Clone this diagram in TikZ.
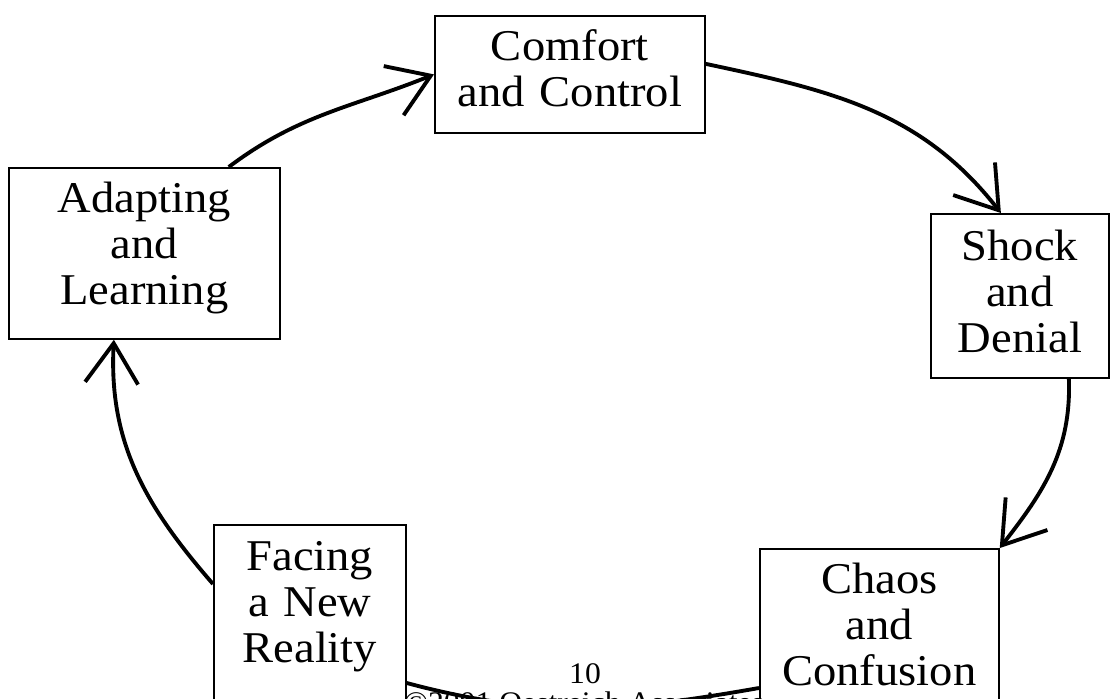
\documentclass[tikz,border=0pt]{standalone}
\usepackage{fontspec}
\setmainfont[FakeStretch=1.06]{Liberation Serif}
\usetikzlibrary{arrows.meta}

\begin{document}
\begin{tikzpicture}[
  stage/.style={draw,line width=1pt,anchor=north west,inner sep=0pt,align=center,
    font=\fontsize{25}{26.2}\selectfont},
  cycline/.style={line width=2.2pt},
  cyc/.style={cycline,-{Straight Barb[length=0.8cm,width=1.06cm]}},
  foot/.style={anchor=base,font=\fontsize{17}{17}\selectfont}]
\useasboundingbox (0,0) rectangle (22.2,13.96);
\clip (0,0) rectangle (22.2,13.96);
% the five stages of the cycle
\node[stage,text width=5.40cm,text height=0.90cm,text depth=1.44cm] (comfort) at (8.68,13.66) {Comfort\\and Control};
\node[stage,text width=3.56cm,text height=0.94cm,text depth=2.34cm] (shock) at (18.60,9.70) {Shock\\and\\Denial};
\node[stage,text width=4.78cm,text height=0.90cm,text depth=3.10cm] (chaos) at (15.18,3.00) {Chaos\\and\\Confusion};
\node[stage,text width=3.84cm,text height=0.92cm,text depth=3.08cm] (facing) at (4.26,3.48) {Facing\\a New\\Reality};
\node[stage,text width=5.42cm,text height=0.90cm,text depth=2.52cm] (adapt) at (0.16,10.62) {Adapting\\and\\Learning};
% connectors
\draw[cyc] ([xshift=-1.04cm]adapt.north east) to[out=37,in=202] (comfort.west);
\draw[cyc] ([yshift=0.21cm]comfort.east) to[out=-12,in=128] ([xshift=-0.38cm]shock.north);
\draw[cyc] ([xshift=0.98cm]shock.south) to[out=-88,in=52] (chaos.north east);
\draw[cycline] ([yshift=-2.8cm]chaos.north west) to[out=190,in=-15] ([yshift=-3.18cm]facing.north east);
\draw[cyc] ([yshift=-1.2cm]facing.north west) to[out=131,in=-93] ([xshift=-0.61cm]adapt.south);
% footer
\node[foot] (pagenum) at (11.70,0.30) {10};
\node[foot] (copyright) at (11.68,-0.28) {\textcopyright2001 Oestreich Associates};
\end{tikzpicture}
\end{document}
